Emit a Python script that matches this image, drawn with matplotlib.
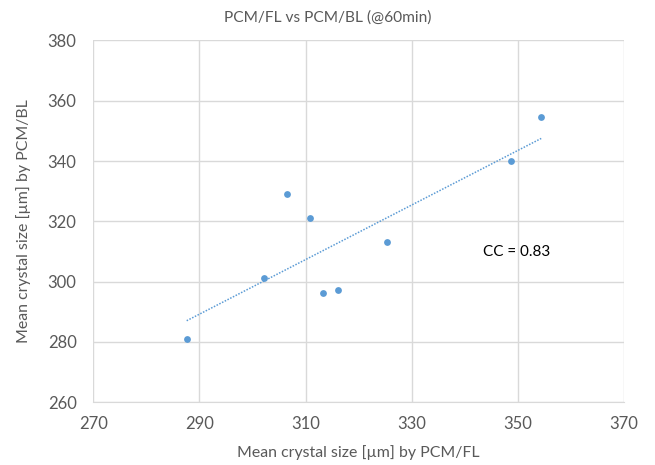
import numpy as np
import matplotlib
matplotlib.use("Agg")
import matplotlib.pyplot as plt

plt.rcParams['font.family'] = ['Lato', 'DejaVu Sans']

# Data
pcm_fl = [287.6, 302.1, 306.5, 310.75, 313.3, 316.2, 325.3, 348.75, 354.4]
pcm_bl = [281.0, 301.2, 329.0, 321.2, 296.4, 297.3, 313.2, 339.9, 354.5]
x_ticks = [270, 290, 310, 330, 350, 370]
y_ticks = [260, 280, 300, 320, 340, 360, 380]
title = "PCM/FL vs PCM/BL (@60min)"
xlabel = "Mean crystal size [µm] by PCM/FL"
ylabel = "Mean crystal size [µm] by PCM/BL"
cc_text = "CC = 0.83"

blue = "#5b9bd5"
gray = "#595959"
grid = "#d9d9d9"

fig = plt.figure(figsize=(6.55, 4.65), dpi=100)
ax = fig.add_axes([0.1424, 0.1348, 0.8103, 0.7783])

x = np.array(pcm_fl)
y = np.array(pcm_bl)
m, b = np.polyfit(x, y, 1)
xs = np.array([x.min(), x.max()])
ax.plot(xs, m * xs + b, linestyle=(0, (1, 1)), color=blue, linewidth=1.1, zorder=2)
ax.scatter(x, y, s=24, color=blue, zorder=3, linewidths=0)

ax.set_xlim(270, 370)
ax.set_ylim(260, 380)
ax.set_xticks(x_ticks)
ax.set_yticks(y_ticks)
ax.grid(True, color=grid, linewidth=1)
ax.set_axisbelow(True)
for s in ['top', 'right', 'left']:
    ax.spines[s].set_visible(False)
ax.spines['bottom'].set_color(grid)
ax.tick_params(length=0, colors=gray, labelsize=12, pad=10)
ax.tick_params(axis='y', pad=12)

fig.text(0.5, 1 - 18 / 465, title, color=gray, fontsize=11.2, ha='center', va='center')
ax.set_xlabel(xlabel, color=gray, fontsize=11.4, labelpad=9)
ax.set_ylabel(ylabel, color=gray, fontsize=11.4, labelpad=12)
ax.text(343.4, 309.8, cc_text, fontsize=11, color='black', va='center', ha='left')

fig.savefig("out.png", dpi=100)
